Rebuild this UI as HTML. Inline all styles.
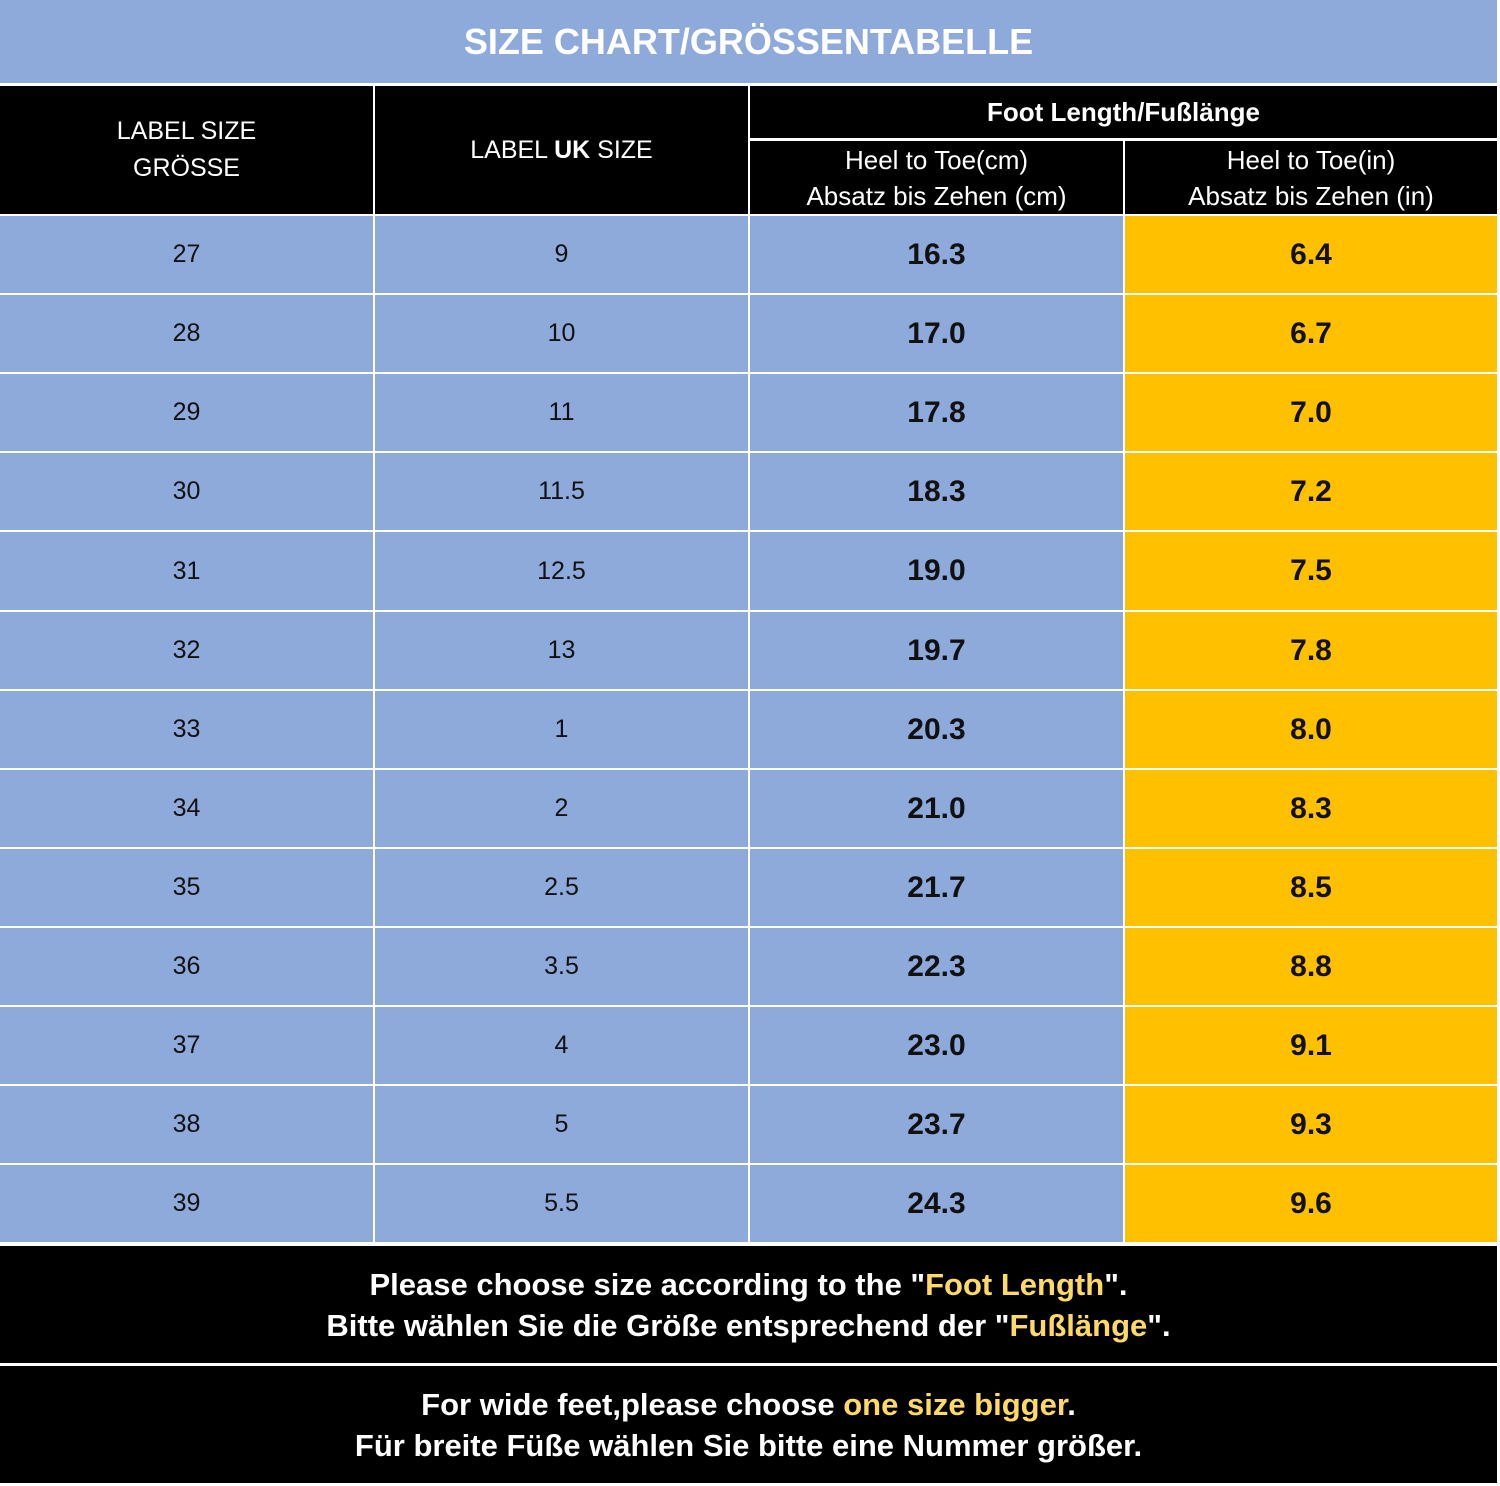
<!DOCTYPE html><html><head><meta charset="utf-8"><style>
body{margin:0;width:1500px;height:1486px;background:#fff;position:relative;overflow:hidden;font-family:"Liberation Sans",sans-serif}
div.c{position:absolute;display:flex;align-items:center;justify-content:center;text-align:center;box-sizing:border-box}
.k{background:#000;color:#fff}
.b{background:#8eaadb;color:#111}
.y{background:#ffc000;color:#111}
.g{color:#ffd966}
</style></head><body>
<div class="c b" style="left:0;top:0;width:1497px;height:83px;color:#fff;font-size:36px;font-weight:bold">SIZE CHART/GRÖSSENTABELLE</div>
<div class="c k" style="left:0;top:86px;width:373px;height:128px;font-size:25px;line-height:37px"><div>LABEL SIZE<br>GRÖSSE</div></div>
<div class="c k" style="left:375px;top:86px;width:373px;height:128px;font-size:25px"><div>LABEL <b>UK</b> SIZE</div></div>
<div class="c k" style="left:750px;top:86px;width:747px;height:52px;font-size:26px;font-weight:bold">Foot Length/Fußlänge</div>
<div class="c k" style="left:750px;top:141px;width:373px;height:73px;font-size:26px;line-height:36px"><div>Heel to Toe(cm)<br>Absatz bis Zehen (cm)</div></div>
<div class="c k" style="left:1125px;top:141px;width:372px;height:73px;font-size:26px;line-height:36px"><div>Heel to Toe(in)<br>Absatz bis Zehen (in)</div></div>
<div id="rows"></div>
<div class="c k" style="left:0;top:1246px;width:1497px;height:117px;font-size:31px;font-weight:bold;line-height:41px"><div>Please choose size according to the "<span class="g">Foot Length</span>".<br>Bitte wählen Sie die Größe entsprechend der "<span class="g">Fußlänge</span>".</div></div>
<div class="c k" style="left:0;top:1366px;width:1497px;height:117px;font-size:31px;font-weight:bold;line-height:41px"><div>For wide feet,please choose <span class="g">one size bigger</span>.<br>Für breite Füße wählen Sie bitte eine Nummer größer.</div></div>
<script>
var d=[[27,9,"16.3","6.4"],[28,10,"17.0","6.7"],[29,11,"17.8","7.0"],[30,"11.5","18.3","7.2"],[31,"12.5","19.0","7.5"],[32,13,"19.7","7.8"],[33,1,"20.3","8.0"],[34,2,"21.0","8.3"],[35,"2.5","21.7","8.5"],[36,"3.5","22.3","8.8"],[37,4,"23.0","9.1"],[38,5,"23.7","9.3"],[39,"5.5","24.3","9.6"]];
var h="";d.forEach(function(r,i){var t=Math.round(216+i*79.1),hh=Math.round(216+(i+1)*79.1)-t-2;
h+='<div class="c b" style="left:0;top:'+t+'px;width:373px;height:'+hh+'px;font-size:25px">'+r[0]+'</div>';
h+='<div class="c b" style="left:375px;top:'+t+'px;width:373px;height:'+hh+'px;font-size:25px">'+r[1]+'</div>';
h+='<div class="c b" style="left:750px;top:'+t+'px;width:373px;height:'+hh+'px;font-size:30px;font-weight:bold">'+r[2]+'</div>';
h+='<div class="c y" style="left:1125px;top:'+t+'px;width:372px;height:'+hh+'px;font-size:30px;font-weight:bold">'+r[3]+'</div>';});
document.getElementById("rows").innerHTML=h;
</script>
</body></html>
